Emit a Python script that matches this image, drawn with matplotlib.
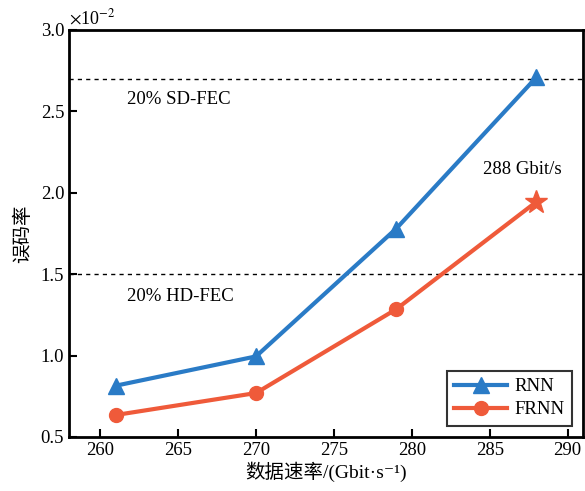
import matplotlib
matplotlib.use("Agg")
import matplotlib.pyplot as plt

rates = [261, 270, 279, 288]
rnn = [0.815, 0.995, 1.78, 2.71]
frnn = [0.635, 0.77, 1.285, 1.945]
xticks = [260, 265, 270, 275, 280, 285, 290]
yticks = [0.5, 1.0, 1.5, 2.0, 2.5, 3.0]
sd_fec = 2.70
hd_fec = 1.50

plt.rcParams['font.family'] = ['Liberation Serif', 'Noto Sans CJK SC', 'DejaVu Sans']
plt.rcParams['mathtext.fontset'] = 'stix'

blue = '#2a7bc6'
red = '#ef5a3a'

fig = plt.figure(figsize=(5.85, 4.91), dpi=100)
ax = fig.add_axes([0.118, 0.110, 0.879, 0.829])

ax.plot(rates, rnn, color=blue, lw=3, marker='^', ms=11, label='RNN', zorder=3)
ax.plot(rates[:-1], frnn[:-1], color=red, lw=3, marker='o', ms=10, label='FRNN', zorder=3)
ax.plot(rates[-2:], frnn[-2:], color=red, lw=3, zorder=3)
ax.plot(rates[-1:], frnn[-1:], color=red, marker='*', ms=17, ls='none', zorder=4)

ax.axhline(sd_fec, color='black', ls=(0, (3, 3)), lw=1)
ax.axhline(hd_fec, color='black', ls=(0, (3, 3)), lw=1)

ax.text(261.7, 2.57, '20% SD-FEC', fontsize=13.5, va='center', ha='left')
ax.text(261.7, 1.36, '20% HD-FEC', fontsize=13.5, va='center', ha='left')
ax.text(287.1, 2.14, '288 Gbit/s', fontsize=13.5, va='center', ha='center')

ax.set_xlim(258, 291)
ax.set_ylim(0.5, 3.0)
ax.set_xticks(xticks)
ax.set_yticks(yticks)
ax.set_yticklabels([f'{v:.1f}' for v in yticks])
ax.tick_params(direction='in', labelsize=13.5, width=1.5, length=6, top=False, right=False)
for s in ax.spines.values():
    s.set_linewidth(2)

ax.text(0.0, 1.005, r'$\times$10$^{-2}$', transform=ax.transAxes, fontsize=13, ha='left', va='bottom')

ax.set_xlabel('数据速率/(Gbit·s⁻¹)', fontsize=14, labelpad=2)
ax.set_ylabel('误码率', fontsize=14, labelpad=6)

leg = ax.legend(loc='lower right', fontsize=13.5, frameon=True, fancybox=False,
                edgecolor='black', handlelength=2.8, borderpad=0.4, labelspacing=0.3,
                handletextpad=0.4, borderaxespad=0.6)
leg.get_frame().set_linewidth(1.5)

fig.savefig('out.png', dpi=100)
